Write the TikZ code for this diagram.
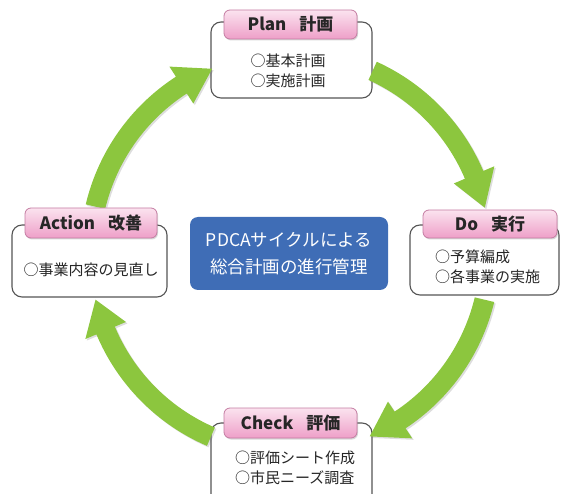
\documentclass[tikz,border=0pt]{standalone}
\usepackage{fontspec}
\setmainfont{Noto Sans CJK JP}
\usetikzlibrary{shadows,calc}
\definecolor{arrowgreen}{HTML}{8CC63E}
\definecolor{boxline}{HTML}{555555}
\definecolor{pinktop}{HTML}{FBE3EF}
\definecolor{pinkbot}{HTML}{EE9FC8}
\definecolor{pinkline}{HTML}{C47CA2}
\definecolor{centerblue}{HTML}{3F6DB6}
\definecolor{textdark}{HTML}{262626}
\tikzset{
  outerbox/.style={draw=boxline, line width=1.1pt, fill=white, rounded corners=10pt},
  labelbox/.style={draw=pinkline, line width=0.8pt, rounded corners=6pt,
    top color=pinktop, bottom color=pinkbot,
    drop shadow={opacity=0.3, shadow xshift=1pt, shadow yshift=-1.5pt},
    font=\fontsize{17}{20}\selectfont\bfseries, text=textdark, inner sep=0pt},
  itemtext/.style={font=\fontsize{15}{20}\selectfont, text=textdark, inner sep=0pt, align=left},
  centerbox/.style={fill=centerblue, rounded corners=8pt, text=white,
    font=\fontsize{17.5}{27}\selectfont, align=center, inner sep=0pt},
  cyclearrow/.style={fill=arrowgreen,
    drop shadow={opacity=0.22, shadow xshift=1.5pt, shadow yshift=-1.5pt, fill=black!60}},
}
\newcommand\pdcaarrow[3]{%
  \fill[cyclearrow] ($(ctr)+(#1:210pt)$) arc[start angle=#1, end angle=#2, radius=210pt]
    -- ($(ctr)+(#2:222pt)$) -- ($(ctr)+(#3:200pt)$) -- ($(ctr)+(#2:178pt)$)
    -- ($(ctr)+(#2:190pt)$) arc[start angle=#2, end angle=#1, radius=190pt] -- cycle;}
\begin{document}
\begin{tikzpicture}[x=1pt,y=1pt]
\useasboundingbox (0,0) rectangle (562,493);
\clip (0,0) rectangle (562,493);
\coordinate (ctr) at (290,240);
% outer boxes
\node[outerbox, minimum width=161pt, minimum height=76pt] (planbox) at (291.5,433) {};
\node[outerbox, minimum width=149pt, minimum height=70pt] (dobox) at (484.5,233) {};
\node[outerbox, minimum width=161pt, minimum height=90pt] (checkbox) at (291.5,25) {};
\node[outerbox, minimum width=155pt, minimum height=72pt] (actionbox) at (89.5,232) {};
% center box
\node[centerbox, minimum width=198pt, minimum height=73pt] (center) at (289,239.5)
  {PDCAサイクルによる\\総合計画の進行管理};
% arrows
\pdcaarrow{65.6}{23}{13.1}
\pdcaarrow{-13.5}{-56.6}{-66.5}
\pdcaarrow{246.7}{202.8}{193.5}
\pdcaarrow{166.6}{122.9}{112.9}
% labels
\node[labelbox, minimum width=133pt, minimum height=29pt] (planlabel) at (290.5,468.5) {Plan\hspace{13pt}計画};
\node[labelbox, minimum width=134pt, minimum height=28pt] (dolabel) at (490,269) {Do\hspace{13pt}実行};
\node[labelbox, minimum width=133pt, minimum height=30pt] (checklabel) at (290.5,70) {Check\hspace{13pt}評価};
\node[labelbox, minimum width=132pt, minimum height=30pt] (actionlabel) at (91,270) {Action\hspace{13pt}改善};
% item texts
\node[itemtext] (planitems) at (288,422) {○基本計画\\○実施計画};
\node[itemtext, anchor=west] (doitems) at (435,226) {○予算編成\\○各事業の実施};
\node[itemtext, anchor=west] (checkitems) at (235,25) {○評価シート作成\\○市民ニーズ調査};
\node[itemtext] (actionitems) at (91,223) {○事業内容の見直し};
\end{tikzpicture}
\end{document}
